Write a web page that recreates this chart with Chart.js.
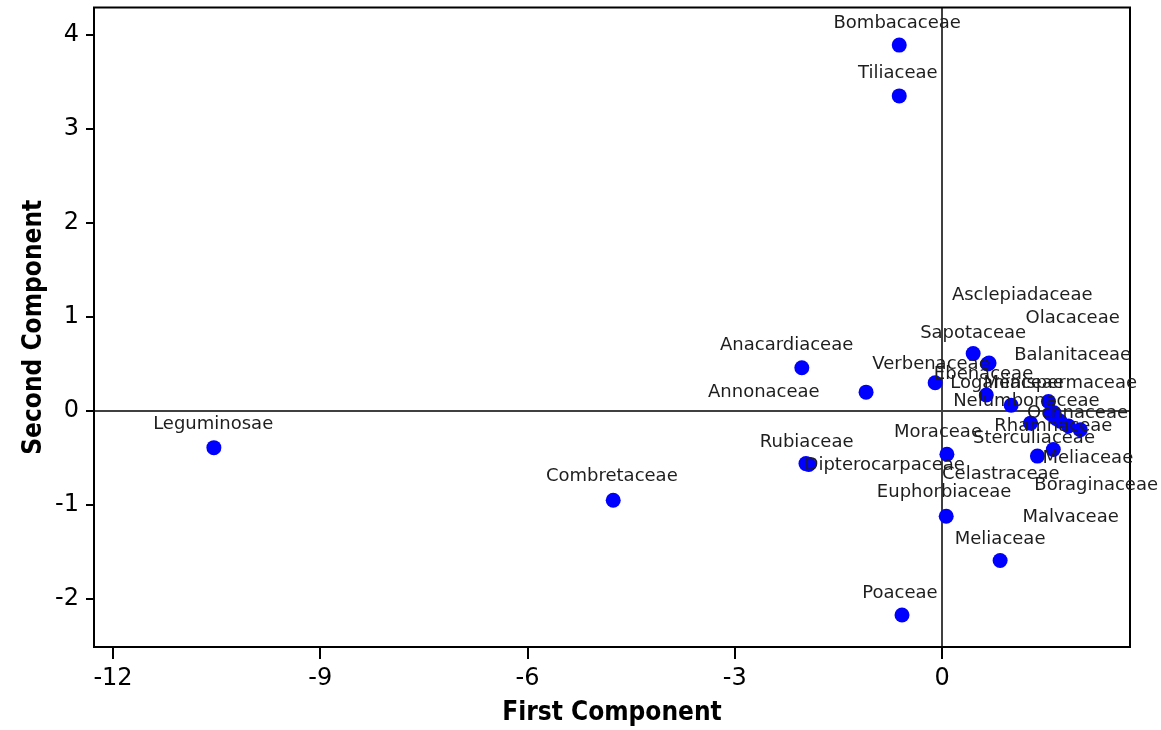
<!DOCTYPE html>
<html>
<head>
<meta charset="utf-8">
<script src="https://cdn.jsdelivr.net/npm/chart.js@4.4.0/dist/chart.umd.min.js"></script>
<style>
  html, body { margin: 0; padding: 0; background: #fff; }
  #wrap { width: 1161px; height: 730px; position: relative; }
</style>
</head>
<body>
<div id="wrap"><canvas id="pca"></canvas></div>
<script>
// family scores on the first two principal components
const families = [
  'Bombacaceae', 'Tiliaceae', 'Leguminosae', 'Combretaceae', 'Anacardiaceae',
  'Annonaceae', 'Rubiaceae', 'Dipterocarpaceae', 'Verbenaceae', 'Sapotaceae',
  'Asclepiadaceae', 'Ebenaceae', 'Olacaceae', 'Balanitaceae', 'Loganiaceae',
  'Menispermaceae', 'Nelumbonaceae', 'Ochnaceae', 'Rhamnaceae', 'Sterculiaceae',
  'Moraceae', 'Meliaceae', 'Celastraceae', 'Boraginaceae', 'Euphorbiaceae',
  'Malvaceae', 'Meliaceae', 'Poaceae'
];
const firstComp = [
  -0.62, -0.62, -10.54, -4.76, -2.03,
  -1.10, -1.97, -1.93, -0.10, 0.45,
  0.68, 0.66, 1.71, 1.83, 0.64,
  1.54, 1.00, 1.57, 1.28, 1.61,
  0.07, 1.38, 2.00, 1.65, 0.06,
  1.62, 0.84, -0.58
];
const secondComp = [
  3.89, 3.35, -0.39, -0.95, 0.46,
  0.20, -0.56, -0.57, 0.30, 0.61,
  0.51, 0.50, -0.11, -0.16, 0.17,
  0.10, 0.06, -0.03, -0.13, -0.41,
  -0.46, -0.48, -0.20, -0.08, -1.12,
  -0.02, -1.59, -2.17
];
// where each family name sits, in component units
const labelX = [
  -0.65, -0.64, -10.55, -4.78, -2.25,
  -2.58, -1.96, -0.83, -0.16, 0.45,
  1.16, 0.60, 1.89, 1.89, 0.94,
  1.71, 1.22, 1.96, 1.61, 1.33,
  -0.06, 2.11, 0.85, 2.23, 0.03,
  1.86, 0.84, -0.61
];
const labelY = [
  4.12, 3.59, -0.14, -0.70, 0.70,
  0.20, -0.33, -0.58, 0.50, 0.83,
  1.23, 0.39, 0.99, 0.59, 0.29,
  0.29, 0.10, -0.02, -0.16, -0.29,
  -0.23, -0.50, -0.67, -0.79, -0.87,
  -1.13, -1.37, -1.94
];
const xTicks = [-12, -9, -6, -3, 0];
const yTicks = [-2, -1, 0, 1, 2, 3, 4];

const titleFont = { family: "'DejaVu Sans Condensed', 'DejaVu Sans'", size: 26, weight: 'bold' };

const plotFrame = {
  id: 'plotFrame',
  beforeDatasetsDraw(chart) {
    const { ctx, chartArea: a, scales: { x, y } } = chart;
    const x0 = Math.round(x.getPixelForValue(0));
    const y0 = Math.round(y.getPixelForValue(0));
    ctx.save();
    ctx.strokeStyle = '#404040';
    ctx.lineWidth = 2;
    ctx.beginPath();
    ctx.moveTo(x0, a.top);
    ctx.lineTo(x0, a.bottom);
    ctx.moveTo(a.left, y0);
    ctx.lineTo(a.right, y0);
    ctx.stroke();
    ctx.strokeStyle = '#000';
    ctx.strokeRect(a.left, a.top, a.right - a.left, a.bottom - a.top);
    ctx.restore();
  },
  afterDatasetsDraw(chart) {
    const { ctx, scales: { x, y } } = chart;
    ctx.save();
    ctx.font = '18px "DejaVu Sans"';
    ctx.fillStyle = '#1e1e1e';
    ctx.textAlign = 'center';
    ctx.textBaseline = 'middle';
    families.forEach((name, i) => {
      ctx.fillText(name, x.getPixelForValue(labelX[i]), y.getPixelForValue(labelY[i]));
    });
    ctx.restore();
  }
};

new Chart(document.getElementById('pca'), {
  type: 'scatter',
  data: {
    datasets: [{
      label: 'Families',
      data: firstComp.map((v, i) => ({ x: v, y: secondComp[i] })),
      backgroundColor: '#0000ff',
      borderColor: '#0000ff',
      pointRadius: 7.5,
      borderWidth: 0
    }]
  },
  options: {
    responsive: true,
    maintainAspectRatio: false,
    animation: false,
    layout: { padding: { top: 6, right: 31, left: 0, bottom: 0 } },
    plugins: {
      legend: { display: false },
      tooltip: { enabled: false }
    },
    scales: {
      x: {
        type: 'linear',
        min: -12.275,
        max: 2.72,
        afterBuildTicks: s => { s.ticks = xTicks.map(v => ({ value: v })); },
        afterFit: s => { s.height = 83; s.paddingLeft = 0; s.paddingRight = 0; },
        grid: { drawOnChartArea: false, drawTicks: true, tickLength: 12, color: '#000', lineWidth: 2 },
        border: { display: true, color: '#000', width: 2 },
        ticks: { font: { family: 'DejaVu Sans', size: 24 }, color: '#000', padding: 5 },
        title: { display: true, text: 'First Component', font: titleFont, color: '#000', padding: { top: 0, bottom: 1 } }
      },
      y: {
        type: 'linear',
        min: -2.51,
        max: 4.29,
        afterBuildTicks: s => { s.ticks = yTicks.map(v => ({ value: v })); },
        afterFit: s => { s.width = 94; s.paddingTop = 0; s.paddingBottom = 0; },
        grid: { drawOnChartArea: false, drawTicks: true, tickLength: 8, color: '#000', lineWidth: 2 },
        border: { display: true, color: '#000', width: 2 },
        ticks: { font: { family: 'DejaVu Sans', size: 24 }, color: '#000', padding: 7 },
        title: { display: true, text: 'Second Component', font: titleFont, color: '#000', padding: { top: 19, bottom: 0 } }
      }
    }
  },
  plugins: [plotFrame]
});
</script>
</body>
</html>
